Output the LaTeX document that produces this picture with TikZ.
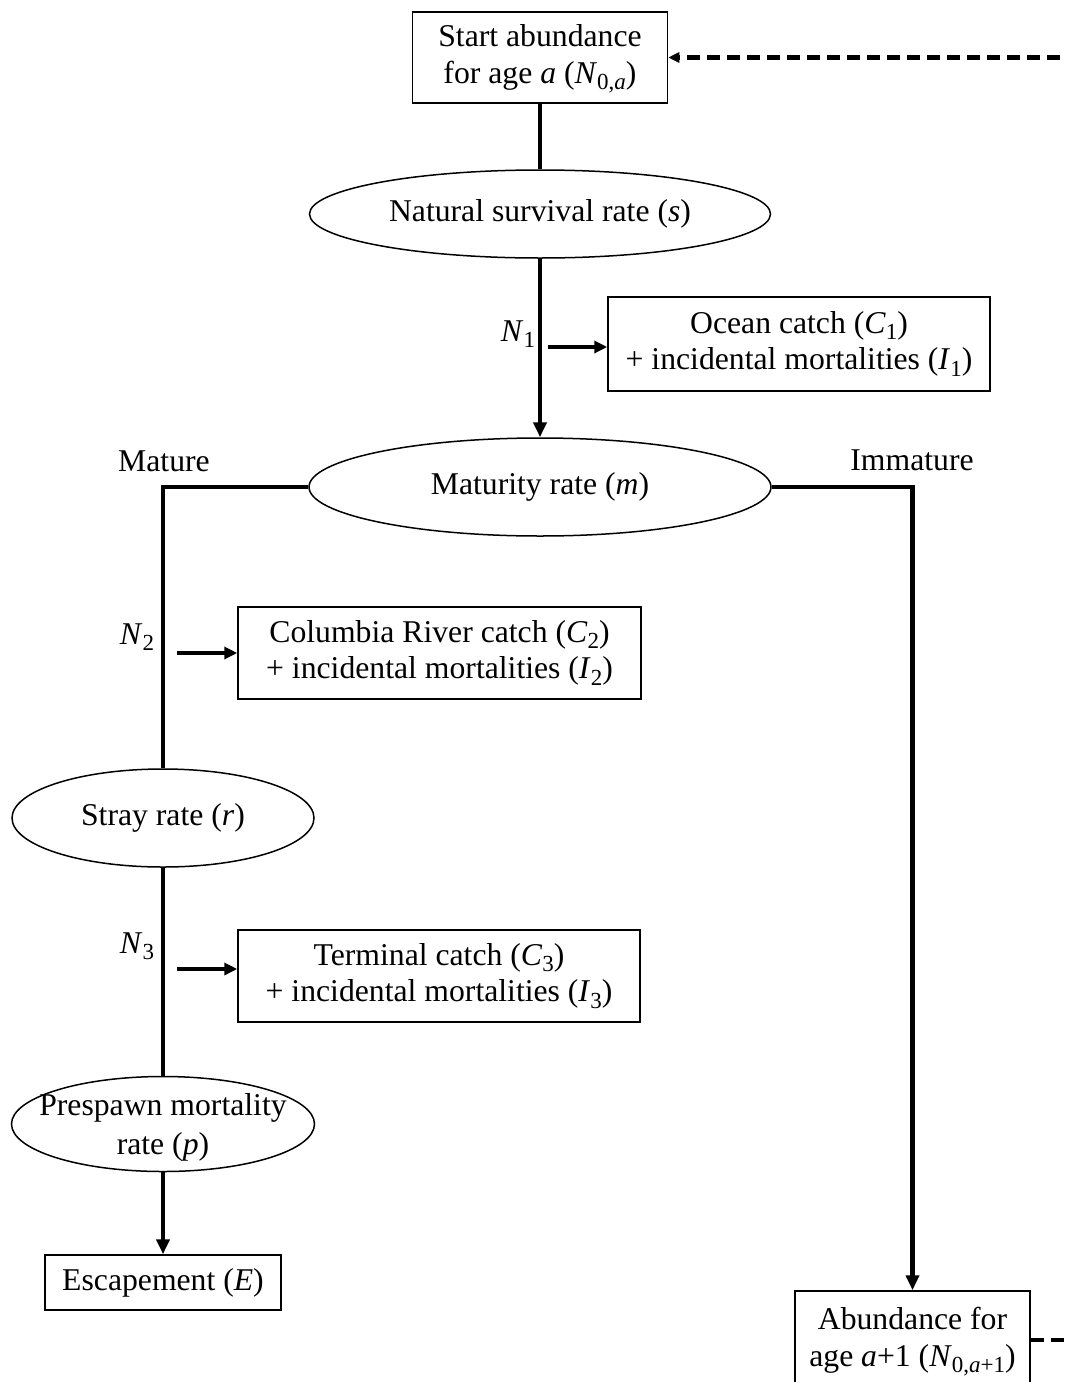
\documentclass[tikz,border=0pt]{standalone}
\usepackage{fontspec}
\setmainfont{Liberation Serif}
\usetikzlibrary{arrows.meta,shapes.geometric}
\newcommand\lowr[1]{\raisebox{-6.5pt}[0pt][0pt]{\fontsize{23}{23}\selectfont #1}}
\begin{document}
\begin{tikzpicture}[x=1pt,y=-1pt,
  every node/.style={font=\fontsize{31.7}{36.5}\selectfont},
  box/.style={draw,line width=1.5pt,align=center,inner sep=0pt},
  oval/.style={draw,ellipse,line width=1.5pt,inner sep=0pt},
  flow/.style={line width=4.4pt},
  arr/.style={flow,-{Triangle[length=15pt,width=13pt]}},
  sarr/.style={line width=4pt,-{Triangle[length=13pt,width=12pt]}},
  dashline/.style={line width=4.4pt,dash pattern=on 13pt off 7pt}
]
\useasboundingbox (0,0) rectangle (1067,1382);

\node[box,minimum width=255pt,minimum height=91pt] (start) at (540,57.5)
  {Start abundance\\for age \textit{a} (\textit{N}\lowr{0,\textit{a}})};
\node[oval,minimum width=461pt,minimum height=88pt,
  label={center:Natural survival rate (\textit{s})}] (surv) at (540,214) {};
\node[box,minimum width=382pt,minimum height=94pt] (ocean) at (799,344)
  {Ocean catch (\textit{C}\lowr{1})\\+ incidental mortalities (\textit{I}\lowr{1})};
\node[oval,minimum width=462pt,minimum height=98pt,
  label={center:Maturity rate (\textit{m})}] (mat) at (540,487) {};
\node (mature) at (164,461) {Mature};
\node (immature) at (912,460) {Immature};
\node[box,minimum width=403pt,minimum height=92pt] (col) at (439.5,653)
  {Columbia River catch (\textit{C}\lowr{2})\\+ incidental mortalities (\textit{I}\lowr{2})};
\node[oval,minimum width=302pt,minimum height=98pt,
  label={center:Stray rate (\textit{r})}] (stray) at (163,818) {};
\node[box,minimum width=402pt,minimum height=92pt] (term) at (439,976)
  {Terminal catch (\textit{C}\lowr{3})\\+ incidental mortalities (\textit{I}\lowr{3})};
\node[oval,minimum width=303pt,minimum height=95pt,
  label={[align=center,yshift=-3pt,font=\fontsize{31.7}{39}\selectfont]center:Prespawn mortality\\rate (\textit{p})}] (pre) at (163,1124) {};
\node[box,minimum width=236pt,minimum height=55pt] (esc) at (163,1282.5)
  {Escapement (\textit{E})};
\node[box,minimum width=235pt,minimum height=98pt] (abund) at (912.5,1340)
  {Abundance for\\age \textit{a}+1 (\textit{N}\lowr{0,\textit{a}+1})};

\node (n1) at (518,331) {\textit{N}\lowr{1}};
\node (n2) at (137,634) {\textit{N}\lowr{2}};
\node (n3) at (137,943) {\textit{N}\lowr{3}};

\coordinate (c1) at (548,347);
\coordinate (c2) at (177,653);
\coordinate (c3) at (177,969);
\coordinate (matL) at (mat.west -| stray.north);
\coordinate (matR) at (mat.east -| abund.north);
\coordinate (loopB) at (1080,1340);
\coordinate (loopT) at (1080,57.5);

\draw[flow] (start.south) -- (surv.north);
\draw[arr] (surv.south) -- (mat.north);
\draw[sarr] (c1) -- (c1 -| ocean.west);
\draw[flow] (mat.west) -- (matL) -- (stray.north);
\draw[arr] (mat.east) -- (matR) -- (abund.north);
\draw[sarr] (c2) -- (c2 -| col.west);
\draw[flow] (stray.south) -- (pre.north);
\draw[sarr] (c3) -- (c3 -| term.west);
\draw[arr] (pre.south) -- (esc.north);
\draw[dashline] (abund.east) -- (loopB);
\draw[dashline,-{Triangle[length=11pt,width=10pt]}] (loopT) -- (start.east);
\end{tikzpicture}
\end{document}
